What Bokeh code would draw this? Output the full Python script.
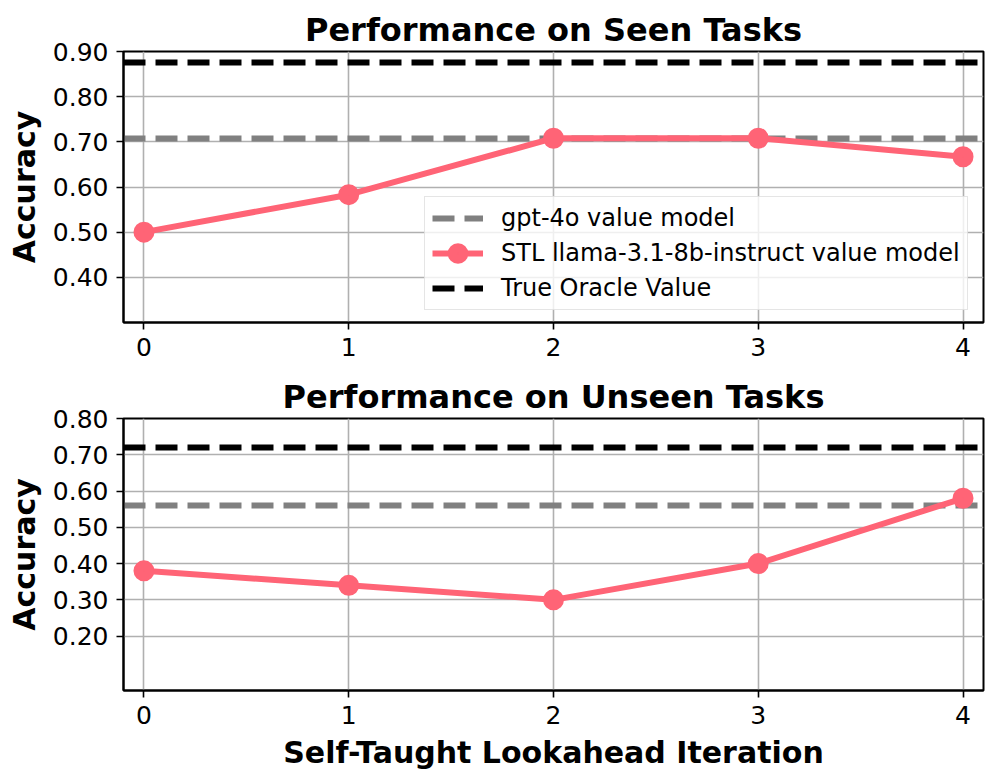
from bokeh.plotting import figure
from bokeh.layouts import column
from bokeh.models import Range1d, FixedTicker, NumeralTickFormatter, Legend, LegendItem
from bokeh.embed import file_html
from bokeh.resources import INLINE

# ---- data ----
iterations = [0, 1, 2, 3, 4]
seen_stl = [0.500, 0.583, 0.708, 0.708, 0.667]
seen_gpt4o = [0.708]
seen_oracle = [0.875]
unseen_stl = [0.38, 0.34, 0.30, 0.40, 0.58]
unseen_gpt4o = [0.56]
unseen_oracle = [0.72]
seen_yticks = [0.4, 0.5, 0.6, 0.7, 0.8, 0.9]
unseen_yticks = [0.2, 0.3, 0.4, 0.5, 0.6, 0.7, 0.8]
x_ticks = [0, 1, 2, 3, 4]

label_gpt = "gpt-4o value model"
label_stl = "STL llama-3.1-8b-instruct value model"
label_oracle = "True Oracle Value"

STL_COLOR = "#FF6476"
FONT = "DejaVu Sans"


def make_fig(title, height, y0, y1, yticks, stl, gpt, oracle, top_border, bottom_border, xlabel=None):
    p = figure(width=989, height=height, output_backend="svg", toolbar_location=None,
               x_range=Range1d(-0.1, 4.1), y_range=Range1d(y0, y1),
               min_border_left=123, min_border_right=6,
               min_border_top=top_border, min_border_bottom=bottom_border,
               title=title)
    p.title.text_font = FONT
    p.title.text_font_size = "32px"
    p.title.text_font_style = "bold"
    p.title.align = "center"
    p.title.standoff = 6
    p.title.text_color = "black"

    p.outline_line_color = "black"
    p.outline_line_width = 2
    p.outline_line_alpha = 1

    for ax in (p.xaxis[0], p.yaxis[0]):
        ax.axis_line_color = "black"
        ax.axis_line_width = 2
        ax.major_tick_line_color = "black"
        ax.major_tick_line_width = 1.6
        ax.major_tick_out = 7
        ax.major_tick_in = 0
        ax.minor_tick_line_color = None
        ax.major_label_text_font = FONT
        ax.major_label_text_font_size = "25px"
        ax.major_label_text_color = "black"
        ax.major_label_standoff = 8
        ax.axis_label_text_font = FONT
        ax.axis_label_text_font_size = "30px"
        ax.axis_label_text_font_style = "bold"
        ax.axis_label_text_color = "black"
        ax.axis_label_standoff = 8

    p.xaxis.ticker = FixedTicker(ticks=x_ticks)
    p.yaxis.ticker = FixedTicker(ticks=yticks)
    p.yaxis.formatter = NumeralTickFormatter(format="0.00")
    p.yaxis.axis_label = "Accuracy"
    if xlabel:
        p.xaxis.axis_label = xlabel

    p.xgrid.grid_line_color = "#b0b0b0"
    p.ygrid.grid_line_color = "#b0b0b0"
    p.xgrid.grid_line_width = 1.6
    p.ygrid.grid_line_width = 1.6

    r_gpt = p.hspan(y=gpt, line_color="#808080", line_width=6, line_dash="22 10")
    r_line = p.line(iterations, stl, line_color=STL_COLOR, line_width=6)
    # small marker + thick outline so that the legend marker is as large as the plotted one
    r_pts = p.scatter(iterations, stl, marker="circle", size=10, line_width=11,
                      fill_color=STL_COLOR, line_color=STL_COLOR)
    r_or = p.hspan(y=oracle, line_color="black", line_width=6, line_dash="22 10")
    return p, r_gpt, r_line, r_pts, r_or


p1, g1, l1, s1, o1 = make_fig("Performance on Seen Tasks", 370, 0.30, 0.90, seen_yticks,
                              seen_stl, seen_gpt4o, seen_oracle, 51, 48)

legend = Legend(items=[LegendItem(label=label_gpt, renderers=[g1]),
                       LegendItem(label=label_stl, renderers=[l1, s1]),
                       LegendItem(label=label_oracle, renderers=[o1])],
                location=(301, 12))
legend.label_text_font = FONT
legend.label_text_font_size = "24px"
legend.label_text_color = "black"
legend.glyph_width = 51
legend.glyph_height = 24
legend.label_height = 24
legend.spacing = 7
legend.padding = 7
legend.margin = 0
legend.label_standoff = 18
legend.border_line_color = "#cccccc"
legend.border_line_width = 1.5
legend.background_fill_alpha = 0.8
p1.add_layout(legend)

p2, g2, l2, s2, o2 = make_fig("Performance on Unseen Tasks", 405, 0.05, 0.80, unseen_yticks,
                              unseen_stl, unseen_gpt4o, unseen_oracle, 48, 85,
                              xlabel="Self-Taught Lookahead Iteration")

layout = column(p1, p2, spacing=0)
open("out.html", "w").write(file_html(layout, INLINE))
